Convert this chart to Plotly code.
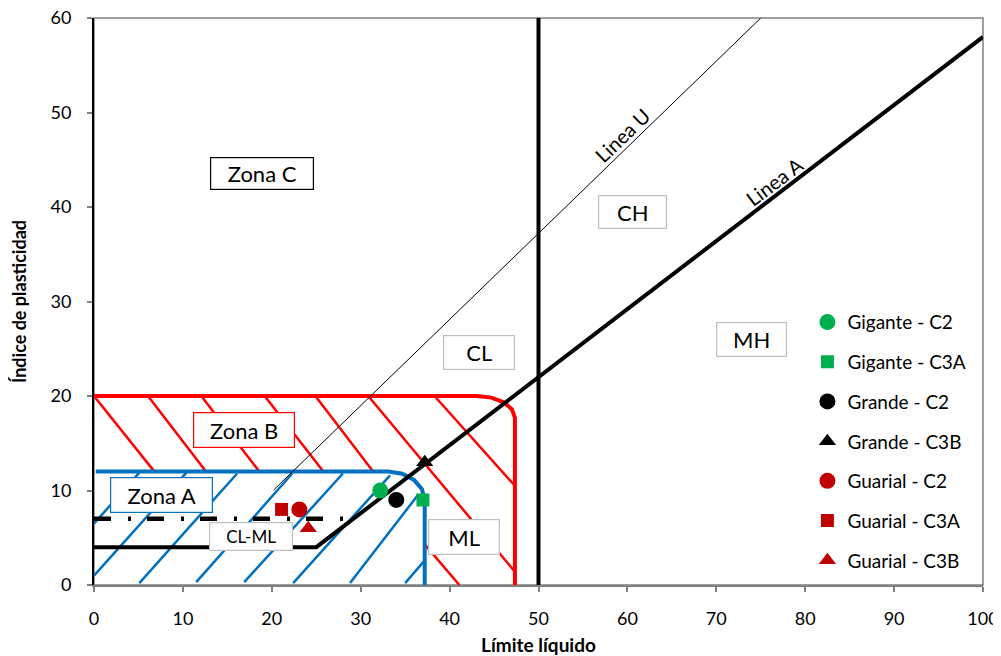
import plotly.graph_objects as go

FONT = "Lato"

# ---------------- data ----------------
# Zone boundaries
red_zone_x = [0, 43.05, 44.70, 46.09, 47.02, 47.35, 47.35]
red_zone_y = [20, 20, 19.83, 19.33, 18.58, 17.7, 0]
blue_zone_x = [0.2, 33.1, 34.67, 36.0, 36.89, 37.2, 37.2]
blue_zone_y = [12, 12, 11.77, 11.12, 10.15, 9.0, 0]

# Hatch segments (x0, y0, x1, y1)
red_hatch = [
    (0.0, 20, 6.8, 12), (6.07, 20, 12.6, 12), (12.07, 20, 18.6, 12),
    (19.2, 20, 25.8, 12), (24.9, 20, 31.4, 12), (37.2, 4.3, 41.1, 0),
    (30.85, 20, 47.35, 1.4), (38.3, 20, 47.35, 10.5),
]
blue_hatch = [
    (0.0, 6.5, 5.1, 11.9), (0.0, 1.0, 10.4, 11.9), (5.1, 0.2, 16.1, 11.8),
    (11.5, 0.3, 22.3, 11.8), (16.9, 0.3, 28.0, 11.8), (22.4, 0.2, 33.3, 11.6),
    (28.8, 0.2, 36.5, 9.6), (35.0, 0.2, 37.2, 2.6),
]

# Reference lines
a_line_x = [0, 25, 100]
a_line_y = [4, 4, 58]
u_line_x = [20.2, 75]
u_line_y = [10.05, 60]
clml_x = [0, 28.8]
clml_y = [7, 7]
ll50_x = [50, 50]
ll50_y = [0, 60]

# Samples
series_names = ["Gigante - C2", "Gigante - C3A", "Grande - C2", "Grande - C3B",
                "Guarial - C2", "Guarial - C3A", "Guarial - C3B"]
series_x = [32.2, 37.0, 34.0, 37.2, 23.1, 21.1, 24.1]
series_y = [10.0, 9.0, 9.0, 13.0, 8.0, 8.0, 6.0]
series_symbol = ["circle", "square", "circle", "triangle-up", "circle", "square", "triangle-up"]
series_color = ["#00B050", "#00B050", "#000000", "#000000", "#C00000", "#C00000", "#C00000"]
series_size = [16, 13, 16, 15, 16, 13, 15]

# Labels: text, x, y, box width px, box height px, border color, font size
box_labels = [
    ("Zona C", 18.9, 43.5, 104, 33, "#000000", 22),
    ("CH", 60.57, 39.47, 69, 34, "#BFBFBF", 22),
    ("CL", 43.3, 24.6, 72, 35, "#BFBFBF", 22),
    ("MH", 73.96, 25.98, 71, 35, "#BFBFBF", 22),
    ("Zona B", 16.9, 16.37, 102, 36, "#FF0000", 22),
    ("Zona A", 7.59, 9.52, 103, 36, "#0070C0", 22),
    ("CL-ML", 17.7, 5.08, 84, 29, "#BFBFBF", 17),
    ("ML", 41.64, 5.06, 72, 36, "#BFBFBF", 22),
]
line_labels = [("Linea U", 59.45, 47.6, -44), ("Linea A", 76.6, 42.7, -37)]

x_ticks = [0, 10, 20, 30, 40, 50, 60, 70, 80, 90, 100]
y_ticks = [0, 10, 20, 30, 40, 50, 60]


def seg_xy(segs):
    xs, ys = [], []
    for x0, y0, x1, y1 in segs:
        xs += [x0, x1, None]
        ys += [y0, y1, None]
    return xs, ys


fig = go.Figure()

rx, ry = seg_xy(red_hatch)
fig.add_trace(go.Scatter(x=rx, y=ry, mode="lines", line=dict(color="#FF0000", width=2.5),
                         showlegend=False, hoverinfo="skip"))
bx, by = seg_xy(blue_hatch)
fig.add_trace(go.Scatter(x=bx, y=by, mode="lines", line=dict(color="#0070C0", width=2.5),
                         showlegend=False, hoverinfo="skip"))

fig.add_trace(go.Scatter(x=red_zone_x, y=red_zone_y, mode="lines",
                         line=dict(color="#FF0000", width=4), showlegend=False, hoverinfo="skip"))
fig.add_trace(go.Scatter(x=blue_zone_x, y=blue_zone_y, mode="lines",
                         line=dict(color="#0070C0", width=4), showlegend=False, hoverinfo="skip"))

fig.add_trace(go.Scatter(x=u_line_x, y=u_line_y, mode="lines",
                         line=dict(color="#000000", width=1), showlegend=False, hoverinfo="skip"))
fig.add_trace(go.Scatter(x=clml_x, y=clml_y, mode="lines",
                         line=dict(color="#000000", width=4.5, dash="17px,17px,3px,16px"),
                         showlegend=False, hoverinfo="skip"))
fig.add_trace(go.Scatter(x=a_line_x, y=a_line_y, mode="lines",
                         line=dict(color="#000000", width=4), showlegend=False, hoverinfo="skip"))
fig.add_trace(go.Scatter(x=ll50_x, y=ll50_y, mode="lines",
                         line=dict(color="#000000", width=4), showlegend=False, hoverinfo="skip"))

for i, name in enumerate(series_names):
    fig.add_trace(go.Scatter(
        x=[series_x[i]], y=[series_y[i]], mode="markers", name=name,
        legendgroup=name,
        marker=dict(symbol=series_symbol[i], color=series_color[i], size=series_size[i],
                    line=dict(width=0)),
    ))

annotations = []
for text, x, y, w, h, bc, fs in box_labels:
    annotations.append(dict(
        x=x, y=y, xref="x", yref="y", text=text, showarrow=False,
        font=dict(family=FONT, size=fs, color="#000000"),
        bgcolor="#FFFFFF", bordercolor=bc, borderwidth=1.2, borderpad=1,
        width=w - 4, height=h - 4, align="center", valign="middle",
    ))
for text, x, y, ang in line_labels:
    annotations.append(dict(
        x=x, y=y, xref="x", yref="y", text=text, showarrow=False, textangle=ang,
        font=dict(family=FONT, size=20, color="#000000"),
    ))

# The page body has an 8px margin, so the figure is sized/margined to land the
# plot area at the same pixels as the reference.
fig.update_layout(
    width=993, height=648,
    margin=dict(l=86, r=18, t=10, b=71, autoexpand=False),
    paper_bgcolor="#FFFFFF", plot_bgcolor="#FFFFFF",
    font=dict(family=FONT, size=17, color="#000000"),
    annotations=annotations,
    showlegend=True,
    legend=dict(x=0.8025, y=0.497, xanchor="left", yanchor="top",
                font=dict(family=FONT, size=19, color="#000000"),
                bgcolor="rgba(0,0,0,0)", tracegroupgap=12, itemsizing="trace"),
    shapes=[dict(type="rect", xref="paper", yref="paper", x0=0, y0=0, x1=1, y1=1,
                 line=dict(color="#808080", width=1.5), layer="below")],
)

fig.update_xaxes(
    range=[0, 100], tickvals=x_ticks, ticktext=[str(v) for v in x_ticks],
    automargin=False, ticklabeloverflow="allow",
    showgrid=False, zeroline=False, showline=True, linecolor="#808080", linewidth=1.5,
    ticks="outside", ticklen=5, tickcolor="#808080", tickwidth=1.5,
    ticklabelstandoff=12,
    tickfont=dict(family=FONT, size=18, color="#000000"),
    title=dict(text="<b>Límite líquido</b>", font=dict(family=FONT, size=19, color="#000000"),
               standoff=12),
)
fig.update_yaxes(
    range=[0, 60], tickvals=y_ticks, ticktext=[str(v) for v in y_ticks],
    automargin=False, ticklabeloverflow="allow",
    showgrid=False, zeroline=False, showline=True, linecolor="#000000", linewidth=2,
    ticks="outside", ticklen=5, tickcolor="#808080", tickwidth=1.5,
    ticklabelstandoff=12,
    tickfont=dict(family=FONT, size=18, color="#000000"),
    title=dict(text="<b>Índice de plasticidad</b>", font=dict(family=FONT, size=18, color="#000000"),
               standoff=24),
)

fig.write_html("out.html")
